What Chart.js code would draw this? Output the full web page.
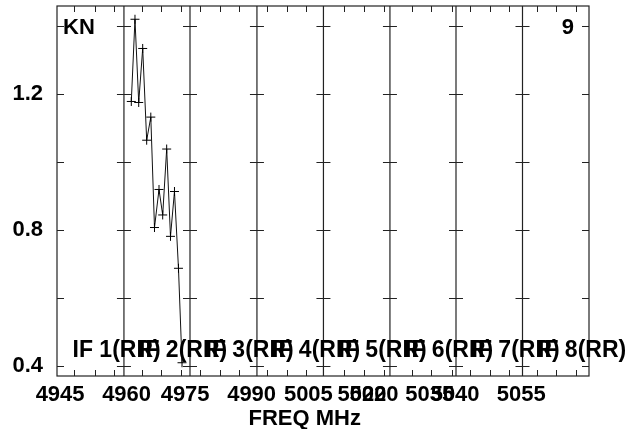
<!DOCTYPE html>
<html>
<head>
<meta charset="utf-8">
<script src="https://cdn.jsdelivr.net/npm/chart.js@4/dist/chart.umd.min.js"></script>
<style>
  html, body { margin: 0; padding: 0; background: #fff; }
</style>
</head>
<body>
<canvas id="c" width="630" height="429"></canvas>
<script>
// amplitude vs frequency, one point per channel
const freq = [4961.16, 4961.99, 4962.83, 4963.73, 4964.63, 4965.56, 4966.39,
              4967.41, 4968.24, 4969.14, 4970.00, 4970.90, 4971.80, 4972.60];
const amp = [1.178, 1.420, 1.175, 1.334, 1.064, 1.132, 0.807,
             0.919, 0.844, 1.038, 0.781, 0.913, 0.687, 0.409];

// tick labels along the bottom (each IF panel labels its own axis, so some overlap)
const xTickValues = [4945.1, 4960.1, 4973.3, 4988.3, 5001.1, 5013.2, 5015.9, 5028.5, 5034.2, 5049.1];
const xTickLabels = ['4945', '4960', '4975', '4990', '5005', '5020', '5020', '5035', '5040', '5055'];
const yTickValues = [0.4, 0.8, 1.2];
const yMarks = [0.4, 0.6, 0.8, 1.0, 1.2, 1.4];

// IF panel edges and the small ticks on top and bottom
const panelEdges = [4959.5, 4974.4, 4989.5, 5004.5, 5019.5, 5034.4, 5049.4];
const minorTicks = [4948.23, 4952.97, 4957.32, 4963.50, 4967.86, 4972.37,
                    4976.66, 4981.17, 4985.53, 4991.70, 4996.21, 5000.57,
                    5009.20, 5013.72, 5018.16, 5024.41, 5028.76, 5033.43,
                    5037.56, 5042.07, 5046.42, 5052.60, 5056.95, 5061.46];
const ifLabels = ['IF 1(RR)', 'IF 2(RR)', 'IF 3(RR)', 'IF 4(RR)',
                  'IF 5(RR)', 'IF 6(RR)', 'IF 7(RR)', 'IF 8(RR)'];
const ifFirst = 4947.9;
const ifStep = 15;

const FONT = '"Liberation Sans", Arial, sans-serif';

const decor = {
    id: 'decor',
    beforeDatasetsDraw(chart) {
        const ctx = chart.ctx;
        const a = chart.chartArea;
        const xs = chart.scales.x, ys = chart.scales.y;
        ctx.save();
        ctx.strokeStyle = '#222';
        ctx.lineWidth = 1.2;
        ctx.strokeRect(a.left, a.top, a.right - a.left, a.bottom - a.top);

        // panel separators with y tick marks across them
        panelEdges.forEach(v => {
            const px = xs.getPixelForValue(v);
            ctx.beginPath();
            ctx.moveTo(px, a.top);
            ctx.lineTo(px, a.bottom);
            ctx.stroke();
        });
        ctx.lineWidth = 1;
        yMarks.forEach(v => {
            const py = Math.round(ys.getPixelForValue(v)) + 0.5;
            ctx.beginPath();
            ctx.moveTo(a.left, py); ctx.lineTo(a.left + 7, py);
            ctx.moveTo(a.right - 7, py); ctx.lineTo(a.right, py);
            panelEdges.forEach(e => {
                const px = xs.getPixelForValue(e);
                ctx.moveTo(px - 7, py); ctx.lineTo(px + 7, py);
            });
            ctx.stroke();
        });
        minorTicks.forEach(v => {
            const px = Math.round(xs.getPixelForValue(v)) + 0.5;
            ctx.beginPath();
            ctx.moveTo(px, a.top); ctx.lineTo(px, a.top + 6);
            ctx.moveTo(px, a.bottom); ctx.lineTo(px, a.bottom - 6);
            ctx.stroke();
        });
        ctx.restore();
    },
    afterDatasetsDraw(chart) {
        const ctx = chart.ctx;
        const a = chart.chartArea;
        const xs = chart.scales.x;
        ctx.save();
        ctx.fillStyle = '#000';
        ctx.font = 'bold 22px ' + FONT;
        ctx.textBaseline = 'alphabetic';
        ctx.textAlign = 'left';
        ctx.fillText('KN', a.left + 6, a.top + 28);
        ctx.textAlign = 'right';
        ctx.fillText('9', a.right - 15, a.top + 28);
        ctx.textAlign = 'left';
        ctx.font = 'bold 23px ' + FONT;
        ifLabels.forEach((t, i) => {
            const px = xs.getPixelForValue(ifFirst + ifStep * i);
            ctx.fillText(t, px, 357);
        });
        ctx.restore();
    }
};

new Chart(document.getElementById('c').getContext('2d'), {
    type: 'line',
    data: {
        datasets: [{
            data: freq.map((f, i) => ({ x: f, y: amp[i] })),
            borderColor: '#111',
            borderWidth: 1,
            pointStyle: 'cross',
            pointRadius: 4.5,
            pointBorderColor: '#000',
            pointBorderWidth: 1,
            tension: 0,
            fill: false
        }]
    },
    options: {
        responsive: false,
        animation: false,
        layout: { padding: { top: 6, right: 41, left: 0, bottom: 0 } },
        plugins: { legend: { display: false }, tooltip: { enabled: false } },
        scales: {
            x: {
                type: 'linear',
                min: 4944.4,
                max: 5064.4,
                grid: { display: false, drawTicks: false },
                border: { display: false },
                afterFit: s => {
                    s.height = 53;
                    s.paddingLeft = 0; s.paddingRight = 0;
                },
                afterBuildTicks: s => { s.ticks = xTickValues.map(v => ({ value: v })); },
                ticks: {
                    autoSkip: false,
                    maxRotation: 0,
                    minRotation: 0,
                    padding: 6,
                    color: '#000',
                    font: { family: FONT, size: 22, weight: 'bold' },
                    callback: (v, i) => xTickLabels[i]
                },
                title: {
                    display: true,
                    text: 'FREQ MHz      ',
                    color: '#000',
                    padding: { top: 0, bottom: -3 },
                    font: { family: FONT, size: 22, weight: 'bold' }
                }
            },
            y: {
                type: 'linear',
                min: 0.370,
                max: 1.459,
                grid: { display: false, drawTicks: false },
                border: { display: false },
                afterFit: s => {
                    s.width = 57;
                    s.paddingTop = 0; s.paddingBottom = 0;
                },
                afterBuildTicks: s => { s.ticks = yTickValues.map(v => ({ value: v })); },
                ticks: {
                    padding: 14,
                    color: '#000',
                    font: { family: FONT, size: 22, weight: 'bold' },
                    callback: v => v.toFixed(1)
                }
            }
        }
    },
    plugins: [decor]
});
</script>
</body>
</html>
